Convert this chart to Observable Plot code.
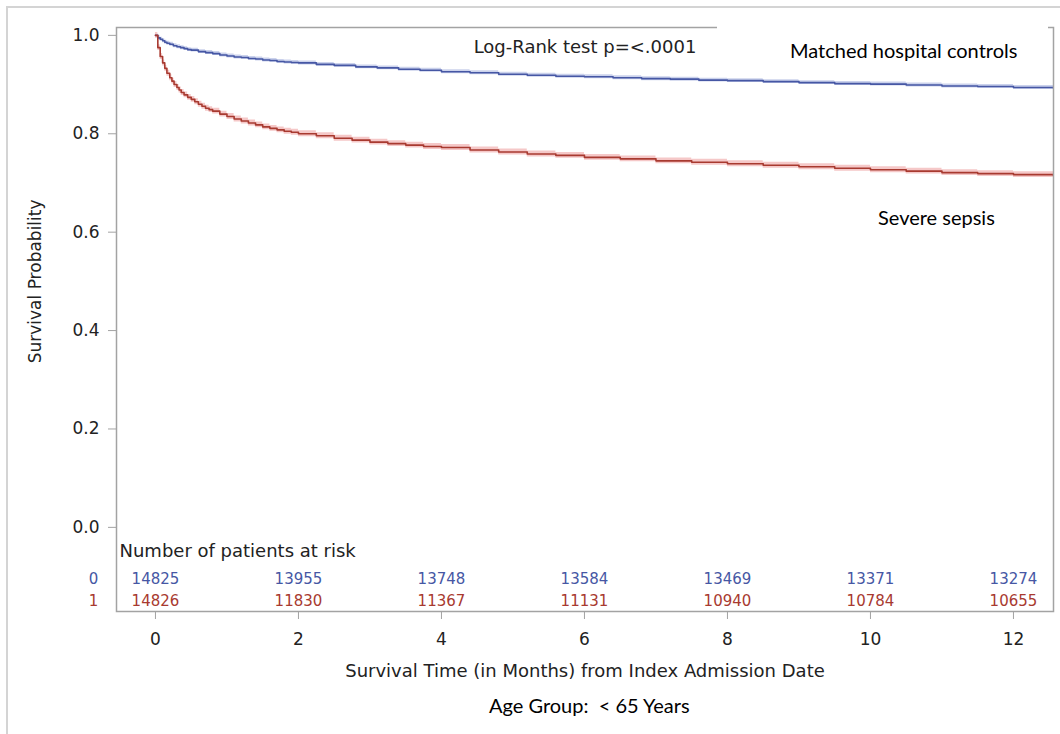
<!DOCTYPE html>
<html>
<head>
<meta charset="utf-8">
<script src="https://cdn.jsdelivr.net/npm/d3@7"></script>
<script src="https://cdn.jsdelivr.net/npm/@observablehq/plot@0.6"></script>
<style>
  body { margin: 0; background: #fff; }
  #wrap { position: relative; width: 1060px; height: 734px; overflow: hidden; background: #fff; }
  #border { position: absolute; left: 6px; top: 6px; width: 1200px; height: 900px;
            border-left: 2px solid #d4d4d4; border-top: 2px solid #d4d4d4; }
  #chart { position: absolute; left: 0; top: 0; }
  .box { position: absolute; background: #fff; }
  .lab { position: absolute; font-family: Lato, "Open Sans", sans-serif; font-size: 20px;
         line-height: 22px; color: #000; white-space: pre; }
</style>
</head>
<body>
<div id="wrap">
  <div id="border"></div>
  <div id="chart"></div>
  <div class="box" style="left:717px;top:20px;width:331px;height:55px;"></div>
  <div class="lab" style="left:790px;top:39px;">Matched hospital controls</div>
  <div class="lab" style="left:878px;top:206px;">Severe sepsis</div>
  <div class="lab" style="left:489px;top:694px;">Age Group:  &lt; 65 Years</div>
</div>
<script>
// Kaplan-Meier estimates (months, survival probability)
const ctrlTime = [0, 0.033, 0.066, 0.1, 0.13, 0.16, 0.2, 0.25, 0.3, 0.35, 0.4, 0.45, 0.5, 0.6, 0.7, 0.8, 0.9, 1.0, 1.1, 1.2, 1.3, 1.4, 1.5, 1.6, 1.7, 1.8, 1.9, 2.0, 2.25, 2.5, 2.8, 3.1, 3.4, 3.7, 4.0, 4.4, 4.8, 5.2, 5.6, 6.0, 6.4, 6.8, 7.2, 7.6, 8.0, 8.5, 9.0, 9.5, 10.0, 10.5, 11.0, 11.5, 12.0, 12.56];
const ctrlSurv = [1.0, 0.995, 0.992, 0.989, 0.986, 0.984, 0.982, 0.979, 0.977, 0.975, 0.973, 0.971, 0.970, 0.967, 0.965, 0.963, 0.960, 0.958, 0.956, 0.955, 0.953, 0.952, 0.950, 0.949, 0.947, 0.946, 0.945, 0.944, 0.941, 0.939, 0.936, 0.934, 0.931, 0.929, 0.926, 0.924, 0.921, 0.919, 0.917, 0.916, 0.914, 0.912, 0.911, 0.909, 0.908, 0.906, 0.904, 0.902, 0.901, 0.899, 0.897, 0.896, 0.894, 0.893];

const sepsisTime = [0, 0.033, 0.066, 0.1, 0.13, 0.16, 0.2, 0.23, 0.26, 0.3, 0.33, 0.36, 0.4, 0.45, 0.5, 0.55, 0.6, 0.65, 0.7, 0.75, 0.8, 0.9, 1.0, 1.1, 1.2, 1.3, 1.4, 1.5, 1.6, 1.7, 1.8, 1.9, 2.0, 2.25, 2.5, 2.75, 3.0, 3.25, 3.5, 3.75, 4.0, 4.4, 4.8, 5.2, 5.6, 6.0, 6.5, 7.0, 7.5, 8.0, 8.5, 9.0, 9.5, 10.0, 10.5, 11.0, 11.5, 12.0, 12.56];
const sepsisSurv = [1.0, 0.975, 0.957, 0.944, 0.933, 0.923, 0.914, 0.907, 0.900, 0.894, 0.889, 0.884, 0.879, 0.874, 0.870, 0.865, 0.860, 0.856, 0.852, 0.849, 0.846, 0.840, 0.835, 0.830, 0.826, 0.822, 0.818, 0.814, 0.811, 0.808, 0.805, 0.803, 0.800, 0.796, 0.791, 0.787, 0.783, 0.780, 0.777, 0.774, 0.772, 0.767, 0.763, 0.759, 0.756, 0.752, 0.749, 0.745, 0.742, 0.739, 0.736, 0.733, 0.730, 0.727, 0.724, 0.721, 0.719, 0.717, 0.715];

// approximate half-width of the pointwise confidence band
const ciHalf = { ctrl: 0.004, sepsis: 0.006 };

// Number at risk table
const riskTimes = [0, 2, 4, 6, 8, 10, 12];
const riskCtrl = [14825, 13955, 13748, 13584, 13469, 13371, 13274];
const riskSepsis = [14826, 11830, 11367, 11131, 10940, 10784, 10655];
const riskGroups = ["0", "1"];

const xTicks = [0, 2, 4, 6, 8, 10, 12];
const yTicks = [0, 0.2, 0.4, 0.6, 0.8, 1.0];

const blue = "#4657a4";
const red = "#a83a30";

const ctrl = ctrlTime.map((t, i) => ({t, s: ctrlSurv[i], lo: ctrlSurv[i] - ciHalf.ctrl, hi: ctrlSurv[i] + ciHalf.ctrl}));
const sepsis = sepsisTime.map((t, i) => ({t, s: sepsisSurv[i], lo: sepsisSurv[i] - ciHalf.sepsis, hi: sepsisSurv[i] + ciHalf.sepsis}));
const riskRow0 = riskTimes.map((t, i) => ({t, n: riskCtrl[i]}));
const riskRow1 = riskTimes.map((t, i) => ({t, n: riskSepsis[i]}));

const axisGray = "#a3a3a3";
const textColor = "#222";

const chart = Plot.plot({
  width: 1060,
  height: 734,
  marginLeft: 116,
  marginRight: 7,
  marginTop: 27,
  marginBottom: 123,
  style: { fontFamily: "'DejaVu Sans', sans-serif", background: "transparent", color: textColor },
  x: { domain: [-0.545, 12.56] },
  y: { domain: [-0.171, 1.016] },
  marks: [
    Plot.areaY(ctrl, { x: "t", y1: "lo", y2: "hi", curve: "step-after", fill: "#cbd2ec", clip: true }),
    Plot.areaY(sepsis, { x: "t", y1: "lo", y2: "hi", curve: "step-after", fill: "#f5c8c8", clip: true }),
    Plot.line(ctrl, { x: "t", y: "s", curve: "step-after", stroke: blue, strokeWidth: 1.6, clip: true }),
    Plot.line(sepsis, { x: "t", y: "s", curve: "step-after", stroke: red, strokeWidth: 1.6, clip: true }),
    Plot.frame({ stroke: axisGray, strokeWidth: 1.5 }),
    Plot.axisY(yTicks, { tickSize: 8, tickPadding: 9, tickFormat: ".1f", fontSize: 17, label: null, stroke: axisGray, color: textColor }),
    Plot.axisX(xTicks, { tickSize: 8, tickPadding: 13, fontSize: 17, label: null, stroke: axisGray, color: textColor }),
    Plot.text(["Survival Probability"], { frameAnchor: "left", y: () => 0.5, dx: -81, rotate: -90, textAnchor: "middle", lineAnchor: "middle", fontSize: 17, fill: textColor }),
    Plot.text(["Survival Time (in Months) from Index Admission Date"], { frameAnchor: "bottom", dy: 60, lineAnchor: "middle", fontSize: 18, fill: textColor }),
    Plot.text(["Log-Rank test p=<.0001"], { frameAnchor: "top", dy: 20, lineAnchor: "middle", fontSize: 18, fill: textColor }),
    Plot.text(["Number of patients at risk"], { frameAnchor: "bottom-left", dx: 3, dy: -60, textAnchor: "start", lineAnchor: "middle", fontSize: 18, fill: textColor }),
    Plot.text(riskRow0, { x: "t", frameAnchor: "bottom", text: d => String(d.n), dy: -32, lineAnchor: "middle", fontSize: 15, fill: blue }),
    Plot.text(riskRow1, { x: "t", frameAnchor: "bottom", text: d => String(d.n), dy: -10, lineAnchor: "middle", fontSize: 15, fill: red }),
    Plot.text([riskGroups[0]], { frameAnchor: "bottom-left", dx: -23, dy: -32, textAnchor: "middle", lineAnchor: "middle", fontSize: 15, fill: blue }),
    Plot.text([riskGroups[1]], { frameAnchor: "bottom-left", dx: -23, dy: -10, textAnchor: "middle", lineAnchor: "middle", fontSize: 15, fill: red })
  ]
});
document.getElementById("chart").appendChild(chart);
</script>
</body>
</html>
